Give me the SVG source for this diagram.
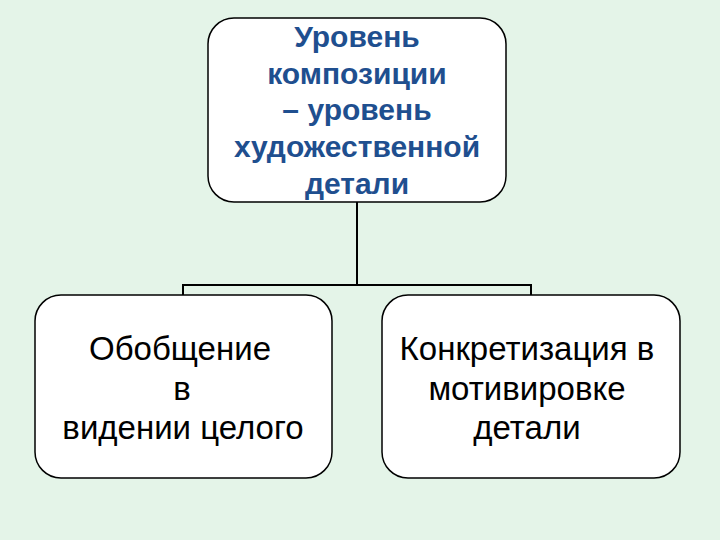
<svg xmlns="http://www.w3.org/2000/svg" width="720" height="540" viewBox="0 0 720 540">
<style>
.box{fill:#fff;stroke:#000;stroke-width:1.5}
.t1{font-family:"Liberation Sans",Arial,sans-serif;font-size:30px;font-weight:bold;fill:#1f4f8f;text-anchor:middle}
.t2{font-family:"Liberation Sans",Arial,sans-serif;font-size:33px;fill:#000;text-anchor:middle}
.c{fill:none;stroke:#000;stroke-width:2}
</style>
<rect width="720" height="540" fill="#e4f4e8"/>
<g id="connectors">
<path class="c" d="M357 202V285M183 295V285H531V295"/>
</g>
<g id="top">
<rect class="box" x="208" y="18" width="298" height="184" rx="26"/>
<text class="t1" x="357" y="47">Уровень</text>
<text class="t1" x="357" y="84">композиции</text>
<text class="t1" x="357" y="120">– уровень</text>
<text class="t1" x="357" y="157">художественной</text>
<text class="t1" x="357" y="194">детали</text>
</g>
<g id="left">
<rect class="box" x="35" y="295" width="297" height="183" rx="26"/>
<text class="t2" x="180" y="360">Обобщение</text>
<text class="t2" x="182" y="400">в</text>
<text class="t2" x="183" y="439">видении целого</text>
</g>
<g id="right">
<rect class="box" x="382" y="295" width="298" height="183" rx="26"/>
<text class="t2" x="527" y="360">Конкретизация в</text>
<text class="t2" x="527" y="400">мотивировке</text>
<text class="t2" x="527" y="439">детали</text>
</g>
</svg>
